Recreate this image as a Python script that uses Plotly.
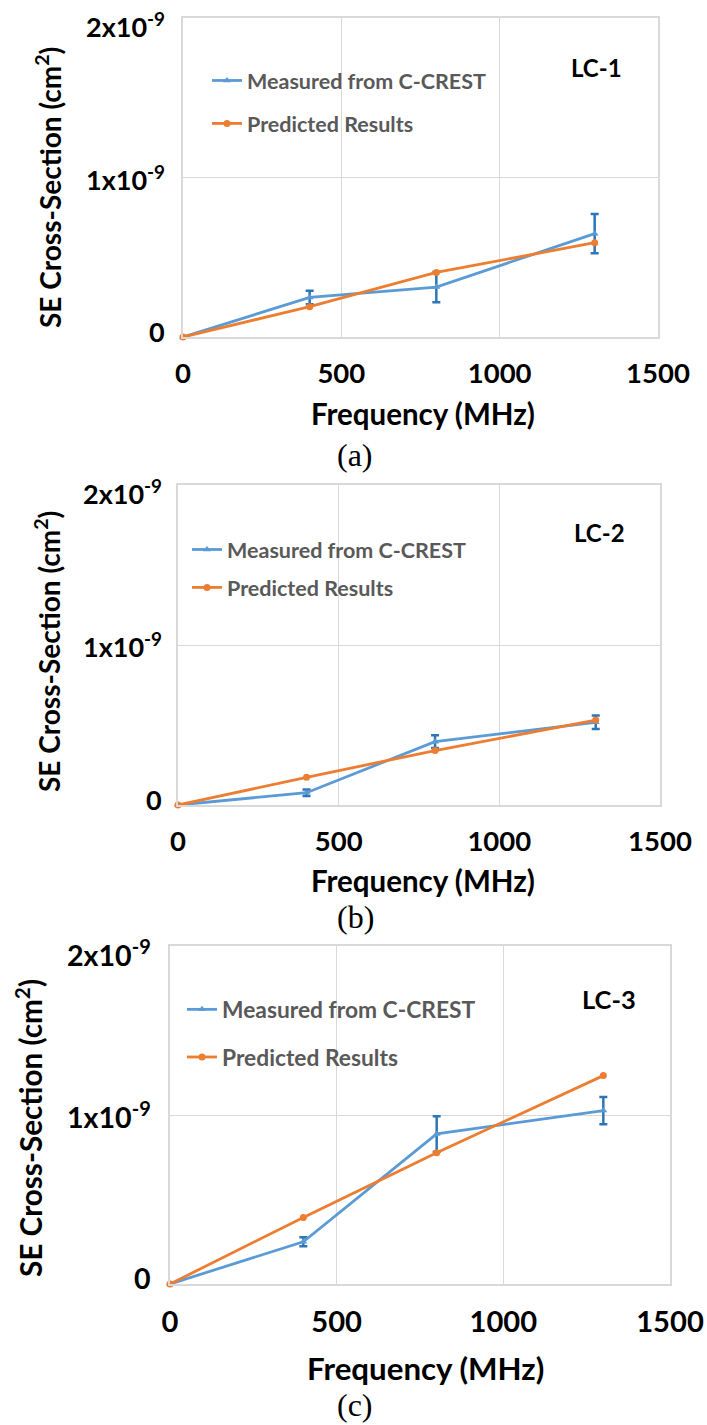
import plotly.graph_objects as go

# ---------------- data ----------------
FREQ_MHZ = [0, 400, 800, 1300]
PANEL_LABELS = ["LC-1", "LC-2", "LC-3"]
CAPTIONS = ["(a)", "(b)", "(c)"]
SERIES_NAMES = ["Measured from C-CREST", "Predicted Results"]

MEAS_LC1 = [0.0, 0.248e-9, 0.313e-9, 0.648e-9]
MEAS_ERR_LC1 = [None, 0.042e-9, 0.095e-9, 0.123e-9]
PRED_LC1 = [0.0, 0.190e-9, 0.405e-9, 0.591e-9]

MEAS_LC2 = [0.0, 0.077e-9, 0.396e-9, 0.517e-9]
MEAS_ERR_LC2 = [None, 0.020e-9, 0.040e-9, 0.042e-9]
PRED_LC2 = [0.0, 0.173e-9, 0.340e-9, 0.531e-9]

MEAS_LC3 = [0.0, 0.250e-9, 0.888e-9, 1.026e-9]
MEAS_ERR_LC3 = [None, 0.026e-9, 0.105e-9, 0.080e-9]
PRED_LC3 = [0.0, 0.394e-9, 0.777e-9, 1.233e-9]

X_TICKS = [0, 500, 1000, 1500]
Y_TICKS = [0, 1e-9, 2e-9]
Y_TICKTEXT = ["0", "1x10<sup>-9</sup>", "2x10<sup>-9</sup>"]
X_TITLE = "Frequency (MHz)"
Y_TITLE = "SE Cross-Section (cm<sup>2</sup>)"

MEAS = [MEAS_LC1, MEAS_LC2, MEAS_LC3]
MEAS_ERR = [MEAS_ERR_LC1, MEAS_ERR_LC2, MEAS_ERR_LC3]
PRED = [PRED_LC1, PRED_LC2, PRED_LC3]

# ---------------- layout (pixels) ----------------
W, H = 707, 1425
PANELS = [
    dict(x0=183, x1=658, y0=18, y1=337, lc=(596, 67), xt=(423, 413), yt=(48, 188), cap=(355, 455),
         leg=(207, 76), gap=12, fs=1.0, ygap=16),
    dict(x0=178, x1=660, y0=485, y1=805, lc=(599, 532), xt=(423, 880), yt=(47, 652), cap=(355, 917),
         leg=(187, 545), gap=7, fs=1.0, ygap=14),
    dict(x0=170, x1=670, y0=946, y1=1284, lc=(609, 999), xt=(425, 1368), yt=(29, 1128), cap=(355, 1405),
         leg=(182, 1005), gap=15, fs=1.06, ygap=17),
]
# vertical nudges (px, up positive) of the y tick labels, as in the source figure
Y_LABEL_SHIFT = [6, 0, -7]

FONT = "Lato"
BLUE = "#5b9bd5"
BLUE_ERR = "#2e75b6"
ORANGE = "#ed7d31"
GRID = "#d9d9d9"


def px(x):
    return x / W


def py(y):
    return 1 - y / H


fig = go.Figure()
layout = dict(
    width=W, height=H,
    margin=dict(l=0, r=0, t=0, b=0, pad=0),
    paper_bgcolor="white", plot_bgcolor="white",
    showlegend=True,
    annotations=[],
)

for i, p in enumerate(PANELS):
    n = "" if i == 0 else str(i + 1)
    xa, ya = "x" + n, "y" + n
    leg = "legend" + n
    fig.add_trace(go.Scatter(
        x=FREQ_MHZ, y=MEAS[i], name=SERIES_NAMES[0], xaxis=xa, yaxis=ya,
        mode="lines+markers", legend=leg, legendgroup=f"m{i}",
        line=dict(color=BLUE, width=2.8),
        marker=dict(symbol="triangle-up", size=7, color=BLUE),
        error_y=dict(type="data", array=MEAS_ERR[i], visible=True, color=BLUE_ERR,
                     thickness=2.5, width=4),
        cliponaxis=False,
    ))
    fig.add_trace(go.Scatter(
        x=FREQ_MHZ, y=PRED[i], name=SERIES_NAMES[1], xaxis=xa, yaxis=ya,
        mode="lines+markers", legend=leg, legendgroup=f"p{i}",
        line=dict(color=ORANGE, width=2.8),
        marker=dict(symbol="circle", size=7, color=ORANGE),
        cliponaxis=False,
    ))
    s = p["fs"]
    tick_font = dict(family=FONT, size=27 * s, color="black", weight="bold")
    layout["xaxis" + n] = dict(
        domain=[px(p["x0"]), px(p["x1"])], anchor=ya, range=[0, 1500],
        tickvals=X_TICKS, ticks="", ticklabelstandoff=int(11 * s),
        ticklabeloverflow="allow",
        tickfont=dict(family=FONT, size=27.5 * s, color="black", weight="bold"),
        showgrid=True, gridcolor=GRID, gridwidth=1.3,
        showline=True, linecolor=GRID, linewidth=1.5, mirror=True,
        zeroline=False, automargin=False, fixedrange=True,
    )
    layout["yaxis" + n] = dict(
        domain=[py(p["y1"]), py(p["y0"])], anchor=xa, range=[0, 2e-9],
        tickvals=Y_TICKS, showticklabels=False, ticks="",
        showgrid=True, gridcolor=GRID, gridwidth=1.3,
        showline=True, linecolor=GRID, linewidth=1.5, mirror=True,
        zeroline=False, automargin=False, fixedrange=True,
    )
    # y tick labels, anchored on the axis values
    for v, t, sh in zip(Y_TICKS, Y_TICKTEXT, Y_LABEL_SHIFT):
        layout["annotations"].append(dict(
            text=t, xref=f"{xa} domain", x=0, xanchor="right", xshift=-p["ygap"],
            yref=ya, y=v, yanchor="middle", yshift=sh * s,
            showarrow=False, font=tick_font,
        ))
    layout[leg] = dict(
        x=px(p["leg"][0]), y=py(p["leg"][1] - 16 * s), xanchor="left", yanchor="top",
        bgcolor="rgba(0,0,0,0)", borderwidth=0, tracegroupgap=p["gap"],
        font=dict(family=FONT, size=21.5 * s, color="#595959", weight="bold"),
    )
    layout["annotations"] += [
        dict(text=PANEL_LABELS[i], x=px(p["lc"][0]), y=py(p["lc"][1]), xref="paper", yref="paper",
             showarrow=False, xanchor="center", yanchor="middle",
             font=dict(family=FONT, size=24 * s, color="black", weight="bold")),
        dict(text=X_TITLE, x=px(p["xt"][0]), y=py(p["xt"][1]), xref="paper", yref="paper",
             showarrow=False, xanchor="center", yanchor="middle",
             font=dict(family=FONT, size=29.5 * s, color="black", weight="bold")),
        dict(text=Y_TITLE, x=px(p["yt"][0]), y=py(p["yt"][1]), xref="paper", yref="paper",
             showarrow=False, xanchor="center", yanchor="middle", textangle=-90,
             font=dict(family=FONT, size=28 * s, color="black", weight="bold")),
        dict(text=CAPTIONS[i], x=px(p["cap"][0]), y=py(p["cap"][1]), xref="paper", yref="paper",
             showarrow=False, xanchor="center", yanchor="middle",
             font=dict(family="Liberation Serif", size=32, color="black")),
    ]

fig.update_layout(**layout)
fig.write_html("out.html")
